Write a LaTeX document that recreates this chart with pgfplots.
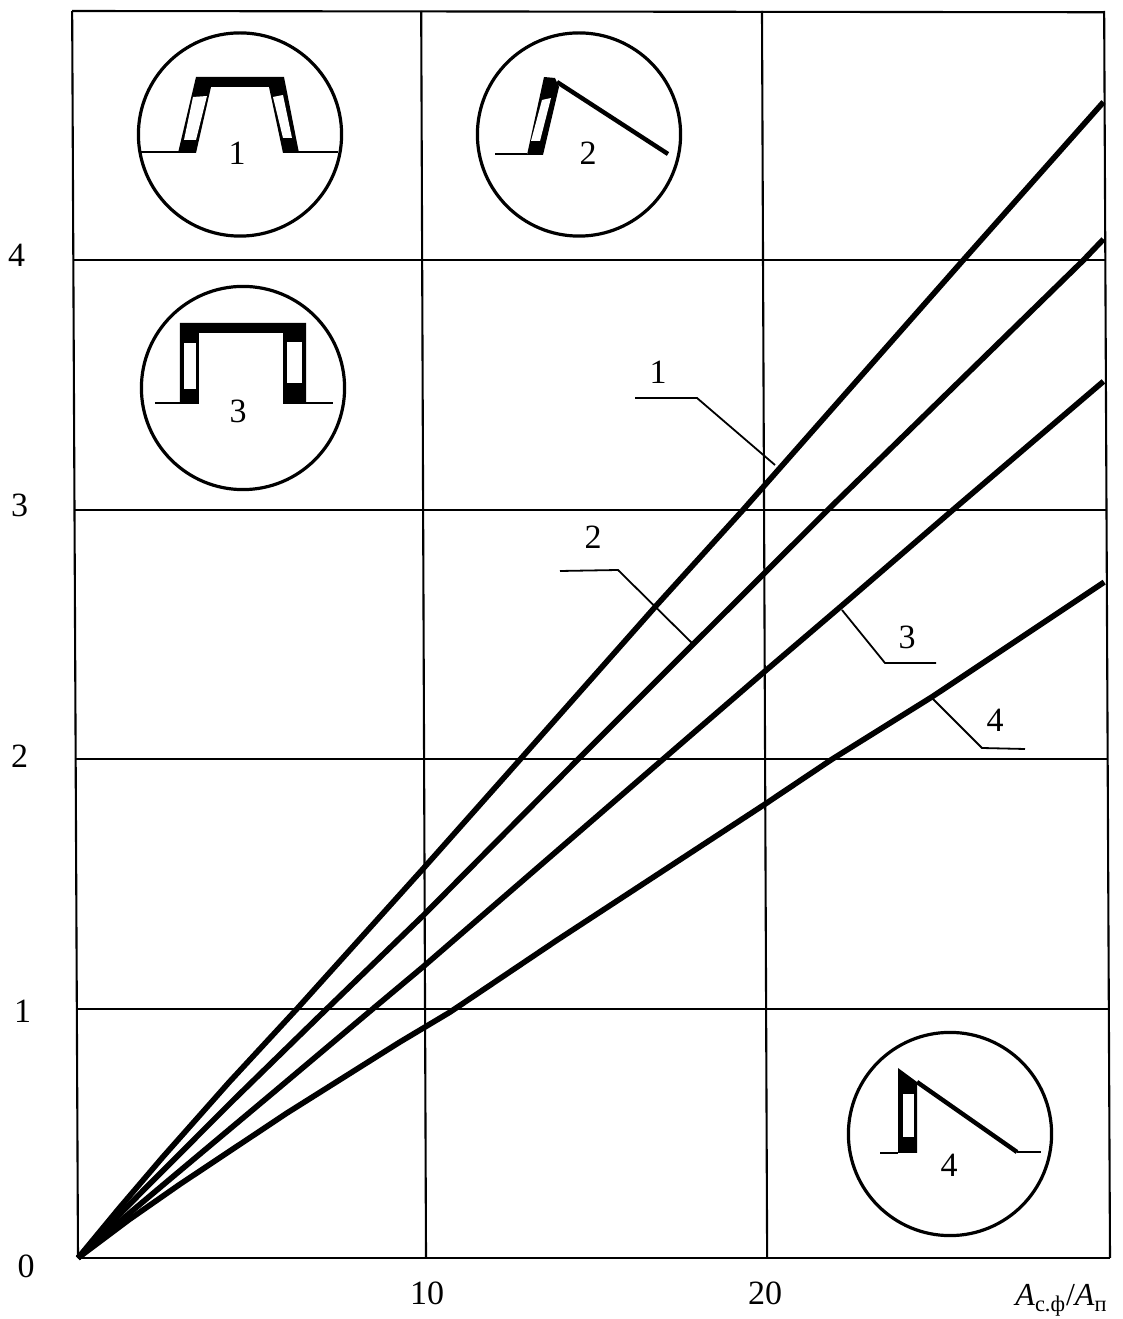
\documentclass[border=0pt]{standalone}
\usepackage{fontspec}
\setmainfont{Liberation Serif}
\usepackage{pgfplots}
\pgfplotsset{compat=1.18}

% curves
\pgfplotstableread{
x y
0 0
1.2 0.2
2.47 0.405
4.4 0.705
6.38 1
10.04 1.56
12.78 1.985
16.86 2.62
19.36 3
25.76 4
29.85 4.635
}\curveone
\pgfplotstableread{
x y
0 0
1 0.145
2 0.285
4.5 0.63
7.25 1
10.04 1.372
14.56 2
17.9 2.46
19.94 2.74
21.83 3
29.26 4
29.85 4.085
}\curvetwo
\pgfplotstableread{
x y
0 0
1.5 0.18
2.97 0.35
5.7 0.665
8.59 1
10.04 1.167
17.03 2
19.94 2.346
22.27 2.62
25.47 3
29.85 3.515
}\curvethree
\pgfplotstableread{
x y
0 0
1.5 0.155
2.97 0.296
6.08 0.581
9.37 0.866
10.83 0.986
13.95 1.275
20 1.82
21.95 2
24.86 2.25
29.87 2.71
}\curvefour

\begin{document}
\begin{tikzpicture}
\path[use as bounding box] (-39pt,-30.5pt) rectangle (522.5pt,629pt);
\begin{axis}[
    scale only axis,
    width=516pt,
    height=623.5pt,
    xmin=0, xmax=30.04,
    ymin=0, ymax=5,
    clip=false,
    axis line style={draw=none},
    major tick length=0pt,
    xtick={10,20},
    xticklabels={\hspace*{5.5pt}10,20},
    ytick={0,1,2,3,4},
    yticklabels={
        \raisebox{-9.75pt}[0pt][0pt]{0},
        \raisebox{-6.9pt}[0pt][0pt]{1}\hspace*{1.75pt},
        \raisebox{-4.25pt}[0pt][0pt]{2}\hspace*{3.25pt},
        \raisebox{-3.25pt}[0pt][0pt]{3}\hspace*{3.25pt},
        \raisebox{-3.25pt}[0pt][0pt]{4}\hspace*{4.75pt}},
    tick label style={font=\fontsize{17}{20}\selectfont},
    yticklabel style={inner sep=0pt, anchor=east, xshift=-21.5pt},
    xticklabel style={inner sep=0pt, anchor=center, yshift=-17.5pt},
    xlabel={\fontsize{16}{19}\selectfont\textit{A}\textsubscript{с.ф}/\textit{A}\textsubscript{п}},
    xlabel style={at={(axis description cs:0.953,-0.034)}, anchor=center, inner sep=0pt},
    gridline/.style={black, line width=1.05pt, no markers, forget plot},
    curve/.style={black, line width=2.8pt, line join=round, no markers, forget plot},
]
% frame and grid, the scan leans a little
\addplot[gridline] coordinates {(-0.17,5) (29.87,4.995)};
\addplot[gridline] coordinates {(-0.14,4) (29.9,4)};
\addplot[gridline] coordinates {(-0.12,3) (29.93,3)};
\addplot[gridline] coordinates {(-0.09,2) (29.96,2)};
\addplot[gridline] coordinates {(-0.05,1) (30,1)};
\addplot[gridline] coordinates {(0,0) (30.04,0)};
\addplot[gridline] coordinates {(-0.17,5) (0,0)};
\addplot[gridline] coordinates {(9.99,5) (10.13,0)};
\addplot[gridline] coordinates {(19.91,5) (20.06,0)};
\addplot[gridline] coordinates {(29.87,5) (30.04,0)};

\addplot[curve] table[x=x,y=y] {\curveone};
\addplot[curve] table[x=x,y=y] {\curvetwo};
\addplot[curve] table[x=x,y=y] {\curvethree};
\addplot[curve] table[x=x,y=y] {\curvefour};
\end{axis}

% leaders and cross-section sketches, in reference pixels
\begin{scope}[xshift=-39pt, yshift=629pt, x=0.5pt, y=-0.5pt,
    thin line/.style={line width=0.9pt},
    ring/.style={line width=1.6pt},
    num/.style={font=\fontsize{17}{20}\selectfont, inner sep=0pt}]
\draw[thin line] (635,398)--(697,398)--(775,465);
\node[num] at (658,372) {1};
\draw[thin line] (560,571)--(618,570)--(692,643);
\node[num] at (593,537) {2};
\draw[thin line] (842,610)--(885,663)--(936,663);
\node[num] at (907,637) {3};
\draw[thin line] (932,698)--(982,748)--(1025,749);
\node[num] at (995,720) {4};

% sketch 1
\draw[ring] (240,134.5) circle[radius=50.8pt];
\draw[thin line] (140,152)--(180,152);
\draw[thin line] (297,152)--(338,152);
\fill (178,153)--(196,77)--(284,77)--(299,153)--(283,153)--(269,87)--(211,87)--(196,153)--cycle;
\fill[white] (193,97)--(207,96)--(196,140)--(184,140)--cycle;
\fill[white] (273,97)--(283,95)--(292,138)--(283,138)--cycle;
\node[num] at (237,153) {1};

% sketch 3
\draw[ring] (243,388) circle[radius=50.8pt];
\draw[line width=1.1pt] (155,403)--(181,403);
\draw[line width=1.1pt] (305,403)--(333,403);
\fill (180,323)--(306,323)--(306,404)--(283,404)--(283,333)--(199,333)--(199,404)--(180,404)--cycle;
\fill[white] (184,343) rectangle (196,389);
\fill[white] (287,342) rectangle (302,383);
\node[num] at (238,411) {3};

% sketch 2
\draw[ring] (579,134.5) circle[radius=50.8pt];
\draw[thin line] (495,154)--(527,154);
\draw[line width=2.2pt] (557,82)--(668,154);
\fill (527,155)--(544,77)--(555,78)--(559,87)--(543,155)--cycle;
\fill[white] (531,141)--(542,100)--(551,98)--(540,141)--cycle;
\node[num] at (588,153) {2};

% sketch 4
\draw[ring] (950,1134) circle[radius=50.8pt];
\draw[thin line] (880,1153)--(898,1153);
\draw[thin line] (1017,1152)--(1041,1152);
\draw[line width=2.2pt] (917,1082)--(1017,1152);
\fill (898,1068)--(917,1082)--(917,1153)--(898,1153)--cycle;
\fill[white] (903,1094) rectangle (914,1137);
\node[num] at (949,1165) {4};
\end{scope}
\end{tikzpicture}
\end{document}
